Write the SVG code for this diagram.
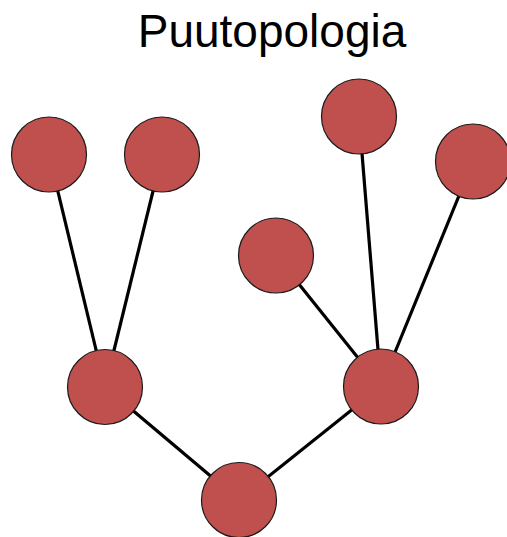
<svg xmlns="http://www.w3.org/2000/svg" width="507" height="537" viewBox="0 0 507 537">
  <style>
    .title { font-family: "Liberation Sans", Arial, sans-serif; font-size: 46px; fill: #000; }
    .node { fill: #C0504D; stroke: #1a1a1a; stroke-width: 1.2; }
    .edge { stroke: #000; stroke-width: 3.2; fill: none; }
  </style>
  <rect width="507" height="537" fill="#fff"/>
  <text class="title" x="272" y="47" text-anchor="middle">Puutopologia</text>

  <g id="connectors">
    <line class="edge" x1="49" y1="154.5" x2="105" y2="387"/>
    <line class="edge" x1="162" y1="154.5" x2="105" y2="387"/>
    <line class="edge" x1="359" y1="116.5" x2="381" y2="386.5"/>
    <line class="edge" x1="473" y1="161.5" x2="381" y2="386.5"/>
    <line class="edge" x1="276" y1="255.5" x2="381" y2="386.5"/>
    <line class="edge" x1="105" y1="387" x2="239" y2="500"/>
    <line class="edge" x1="381" y1="386.5" x2="239" y2="500"/>
  </g>

  <g id="leaf-a"><circle class="node" cx="49" cy="154.5" r="37.5"/></g>
  <g id="leaf-b"><circle class="node" cx="162" cy="154.5" r="37.5"/></g>
  <g id="leaf-c"><circle class="node" cx="359" cy="116.5" r="37.5"/></g>
  <g id="leaf-d"><circle class="node" cx="473" cy="161.5" r="37.5"/></g>
  <g id="leaf-e"><circle class="node" cx="276" cy="255.5" r="37.5"/></g>
  <g id="branch-left"><circle class="node" cx="105" cy="387" r="37.5"/></g>
  <g id="branch-right"><circle class="node" cx="381" cy="386.5" r="37.5"/></g>
  <g id="root"><circle class="node" cx="239" cy="500" r="37.5"/></g>
</svg>
